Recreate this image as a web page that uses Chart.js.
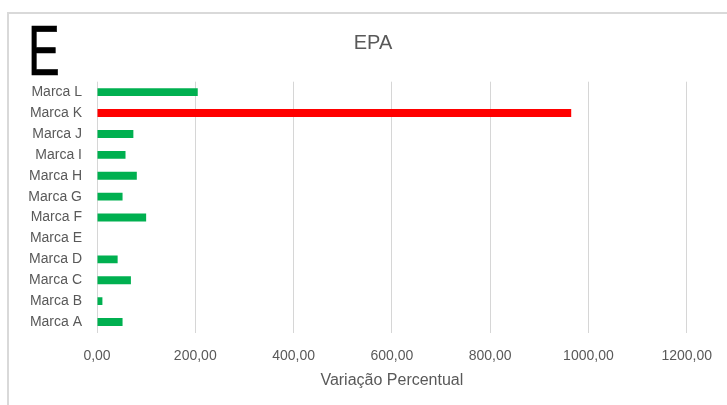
<!DOCTYPE html>
<html>
<head>
<meta charset="utf-8">
<script src="https://cdn.jsdelivr.net/npm/chart.js@4/dist/chart.umd.min.js"></script>
<style>
  html, body { margin: 0; padding: 0; background: #ffffff; }
  #wrap { position: relative; width: 727px; height: 405px; overflow: hidden; }
  #frame {
    position: absolute; left: 7px; top: 12px; width: 760px; height: 420px;
    border-left: 2px solid #d9d9d9; border-top: 2px solid #d9d9d9;
    box-sizing: border-box;
  }
  #panel {
    position: absolute; left: 28px; top: 16px;
    font-family: "Liberation Sans", sans-serif; font-size: 70px; line-height: 1;
    color: #000000; -webkit-text-stroke: 0.7px #000000;
    transform: scaleX(0.68); transform-origin: left top;
  }
  canvas { position: absolute; left: 0; top: 0; }
</style>
</head>
<body>
<div id="wrap">
  <div id="frame"></div>
  <canvas id="chart" width="727" height="405"></canvas>
  <div id="panel">E</div>
</div>
<script>
// Brands and their EPA percentage change
const categories = ['Marca A', 'Marca B', 'Marca C', 'Marca D', 'Marca E', 'Marca F',
                    'Marca G', 'Marca H', 'Marca I', 'Marca J', 'Marca K', 'Marca L'];
const variacao = [52, 11, 69, 42, 0, 100, 52, 81, 58, 74, 965, 205];
const barColors = ['#00b050', '#00b050', '#00b050', '#00b050', '#00b050', '#00b050',
                   '#00b050', '#00b050', '#00b050', '#00b050', '#ff0000', '#00b050'];
const xTicks = [0, 200, 400, 600, 800, 1000, 1200];

const grey = '#595959';
const fontFamily = '"Liberation Sans", sans-serif';

new Chart(document.getElementById('chart'), {
  type: 'bar',
  data: {
    labels: categories,
    datasets: [{
      data: variacao,
      backgroundColor: barColors,
      borderWidth: 0,
      categoryPercentage: 1,
      barPercentage: 0.38
    }]
  },
  options: {
    indexAxis: 'y',
    responsive: false,
    animation: false,
    layout: { padding: { left: 19, right: 0, top: 0, bottom: 0 } },
    plugins: {
      legend: { display: false },
      tooltip: { enabled: false },
      title: {
        display: true,
        text: 'EPA',
        color: grey,
        font: { family: fontFamily, size: 20, weight: 'normal', lineHeight: 1.2 },
        padding: { top: 31, bottom: 26.7 }
      }
    },
    scales: {
      x: {
        min: xTicks[0],
        max: xTicks[xTicks.length - 1],
        afterBuildTicks: (scale) => { scale.ticks = xTicks.map(v => ({ value: v })); },
        afterFit: (scale) => { scale.height = 72.5; },
        grid: { color: '#d6d6d6', lineWidth: 1, drawTicks: false },
        border: { display: false },
        ticks: {
          color: grey,
          padding: 15,
          font: { family: fontFamily, size: 14 },
          callback: (v) => Number(v).toFixed(2).replace('.', ',')
        },
        title: {
          display: true,
          text: 'Variação Percentual',
          color: grey,
          font: { family: fontFamily, size: 16, lineHeight: 1.2 },
          padding: { top: 0, bottom: 14.4 }
        }
      },
      y: {
        reverse: true,
        afterFit: (scale) => { scale.width = 78; },
        grid: { display: false, drawTicks: false },
        border: { display: false },
        ticks: {
          color: grey,
          padding: 15,
          font: { family: fontFamily, size: 14 }
        }
      },
      // empty right-hand margin beside the plot
      yRight: {
        type: 'category',
        position: 'right',
        afterFit: (scale) => { scale.width = 36; },
        grid: { display: false, drawTicks: false },
        border: { display: false },
        ticks: { display: false }
      }
    }
  }
});
</script>
</body>
</html>
